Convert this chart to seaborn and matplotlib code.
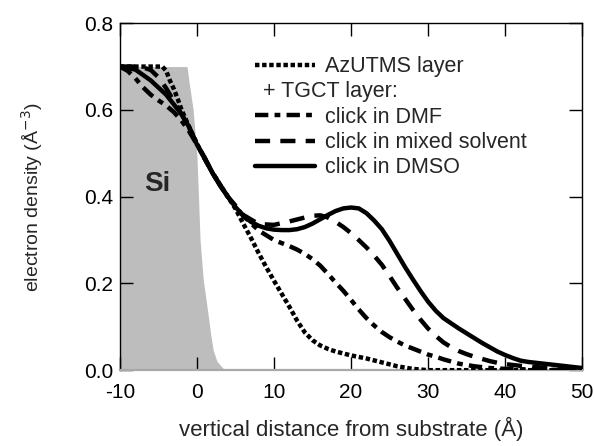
"""
Electron density profiles of AzUTMS / TGCT layers on Si (reflectivity fit).
"""
import numpy as np
import pandas as pd
import matplotlib
matplotlib.use("Agg")
import matplotlib.pyplot as plt
from matplotlib.lines import Line2D
import seaborn as sns

# ---------------------------------------------------------------------------
# data
# ---------------------------------------------------------------------------
si_z = [-10, -1.3, -1.0, -0.5, 0.0, 0.4, 0.8, 1.3, 1.8, 2.1, 2.6, 3.4, 4.0, 50]
si_rho = [0.70, 0.70, 0.66, 0.60, 0.49, 0.30, 0.21, 0.146, 0.08, 0.046, 0.02, 0.004, 0.0, 0.0]

azutms_z = [-10, -6, -4.5, -4, -3.5, -3, -2.5, -2, -1.5, -1, 0, 2, 4, 5, 6, 7, 8, 9,
            10, 11, 12, 13, 14, 15, 16, 17, 18, 20, 22, 24, 26, 28, 30, 50]
azutms_rho = [0.70, 0.70, 0.70, 0.69, 0.667, 0.648, 0.625, 0.60, 0.58, 0.56, 0.522, 0.455,
              0.40, 0.372, 0.338, 0.305, 0.27, 0.237, 0.206, 0.176, 0.146, 0.114, 0.087,
              0.069, 0.057, 0.049, 0.043, 0.034, 0.027, 0.018, 0.009, 0.003, 0.0, 0.0]

dmf_z = [-10, -9, -8, -7, -6, -5, -4, -3, -2, -1, 0, 2, 4, 6, 8, 10, 12, 13, 14, 15,
         16, 17, 18, 19, 20, 21, 22, 23, 24, 25, 26, 27, 28, 29, 30, 31, 32, 33, 34,
         35, 36, 38, 40, 45, 50]
dmf_rho = [0.70, 0.69, 0.673, 0.652, 0.635, 0.622, 0.61, 0.595, 0.575, 0.55, 0.52, 0.455,
           0.40, 0.356, 0.322, 0.300, 0.286, 0.278, 0.268, 0.256, 0.241, 0.222, 0.202,
           0.183, 0.162, 0.14, 0.12, 0.103, 0.088, 0.076, 0.066, 0.057, 0.05, 0.043,
           0.036, 0.031, 0.025, 0.02, 0.015, 0.012, 0.009, 0.005, 0.003, 0.001, 0.0]

mixed_z = [-10, -8, -7, -6, -5, -4, -3, -2, -1, 0, 2, 4, 6, 8, 10, 12, 14, 15, 16, 17,
           18, 19, 20, 21, 22, 23, 24, 25, 26, 27, 28, 29, 30, 31, 32, 33, 34, 35, 36,
           37, 38, 39, 40, 42, 44, 46, 48, 50]
mixed_rho = [0.70, 0.70, 0.698, 0.692, 0.675, 0.65, 0.62, 0.59, 0.558, 0.52, 0.455, 0.40,
             0.358, 0.337, 0.335, 0.343, 0.352, 0.356, 0.357, 0.352, 0.342, 0.33, 0.316,
             0.30, 0.283, 0.264, 0.243, 0.217, 0.19, 0.165, 0.14, 0.117, 0.096, 0.079,
             0.064, 0.053, 0.044, 0.037, 0.031, 0.026, 0.021, 0.017, 0.014, 0.01, 0.007,
             0.005, 0.003, 0.002]

dmso_z = [-10, -8, -6, -4, -2, -1, 0, 1, 2, 3, 4, 5, 6, 7, 8, 9, 10, 11, 12, 13, 14, 15,
          16, 17, 18, 19, 20, 21, 22, 23, 24, 25, 26, 27, 28, 29, 30, 31, 32, 33, 34, 35,
          36, 37, 38, 39, 40, 41, 42, 43, 44, 45, 46, 47, 48, 49, 50]
dmso_rho = [0.70, 0.693, 0.668, 0.635, 0.59, 0.56, 0.52, 0.49, 0.455, 0.425, 0.40, 0.376,
            0.356, 0.342, 0.333, 0.327, 0.324, 0.323, 0.323, 0.325, 0.33, 0.338, 0.348,
            0.358, 0.367, 0.373, 0.375, 0.373, 0.362, 0.345, 0.325, 0.298, 0.268, 0.238,
            0.21, 0.183, 0.158, 0.137, 0.12, 0.108, 0.096, 0.085, 0.074, 0.063, 0.053,
            0.043, 0.035, 0.028, 0.022, 0.019, 0.017, 0.015, 0.013, 0.011, 0.009, 0.007,
            0.005]

labels = ["AzUTMS layer", "click in DMF", "click in mixed solvent", "click in DMSO"]

# ---------------------------------------------------------------------------
# style
# ---------------------------------------------------------------------------
sns.set_style("ticks")
plt.rcParams["font.family"] = ["Liberation Sans", "DejaVu Sans"]
plt.rcParams["axes.unicode_minus"] = False

fig = plt.figure(figsize=(5.94, 4.46), dpi=100)
ax = fig.add_axes([0.202, 0.170, 0.778, 0.778])

# Si substrate
ax.fill_between(si_z, si_rho, 0, color="#bdbdbd", lw=0, zorder=0.5)
ax.text(-5.2, 0.43, "Si", fontsize=20, fontweight="bold", ha="center", va="center")

lw = 3.2
styles = [
    (azutms_z, azutms_rho, (0, (1.0, 0.6))),
    (dmf_z, dmf_rho, (0, (3.0, 1.4, 1.3, 1.4))),
    (mixed_z, mixed_rho, (0, (3.4, 2.3))),
    (dmso_z, dmso_rho, "-"),
]
for (z, rho, ls), lab in zip(styles, labels):
    df = pd.DataFrame({"z": z, "rho": rho})
    sns.lineplot(data=df, x="z", y="rho", ax=ax, color="black", lw=lw,
                 linestyle=ls, label=lab, dash_capstyle="butt", zorder=3)

ax.set_xlim(-10, 50)
ax.set_ylim(0, 0.8)
ax.set_xticks(np.arange(-10, 51, 10))
ax.set_yticks(np.arange(0, 0.81, 0.2))
ax.set_yticklabels([f"{v:.1f}" for v in np.arange(0, 0.81, 0.2)])
ax.tick_params(direction="in", length=9.5, width=1.0, top=True, right=True,
               labelsize=15, colors="black")
ax.tick_params(axis="x", pad=9)
ax.tick_params(axis="y", pad=5)
for sp in ax.spines.values():
    sp.set_linewidth(1.0)
    sp.set_color("black")
ax.spines["bottom"].set_color("#a8a8a8")
ax.spines["bottom"].set_linewidth(1.6)

ax.set_xlabel("vertical distance from substrate (Å)", fontsize=16, labelpad=11)
ax.set_ylabel("electron density (Å$^{-3}$)", fontsize=14, labelpad=28)

# legend with a blank row for the "+ TGCT layer:" caption
h, l = ax.get_legend_handles_labels()
blank = Line2D([], [], color="none")
handles = [h[0], blank, h[1], h[2], h[3]]
names = [l[0], " ", l[1], l[2], l[3]]
ax.legend(handles, names, loc="upper left", bbox_to_anchor=(0.292, 0.905),
          frameon=False, borderaxespad=0, borderpad=0, handlelength=2.8,
          handletextpad=0.45, labelspacing=0.2, fontsize=15.5)
ax.text(0.309, 0.804, "+ TGCT layer:", transform=ax.transAxes, fontsize=15.5,
        ha="left", va="center")

fig.savefig("out.png", dpi=100)
